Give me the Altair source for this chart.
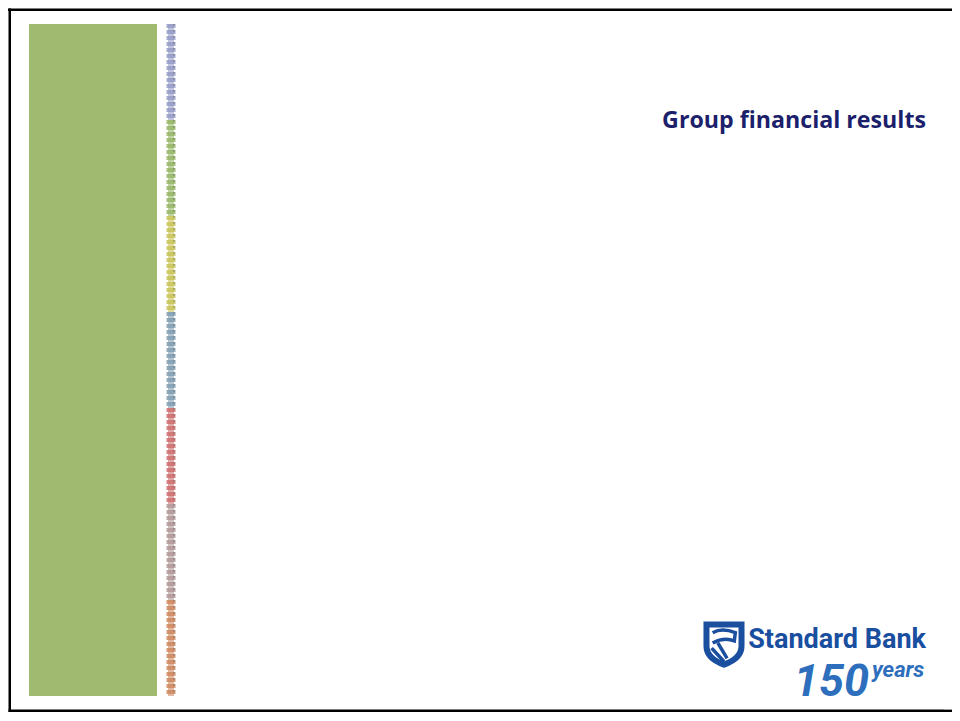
import altair as alt
import pandas as pd

# ---- content ----
title_text = "Group financial results"
brand_name = "Standard Bank"
anniv_num = "150"
anniv_word = "years"

# bead strip segments (top to bottom)
segment_names = ["lavender", "green", "yellow", "steel", "red", "mauve", "orange"]
segment_colors = ["#979cc8", "#98b768", "#c9c45a", "#819fb3", "#cf7070", "#b19998", "#cf8860"]

W, H = 944, 705

seg_df = pd.DataFrame({
    "name": segment_names,
    "color": segment_colors,
    "start": list(range(len(segment_names))),
    "end": [i + 1 for i in range(len(segment_names))],
})
one = pd.DataFrame({"k": [0]})

base = alt.Chart(one)

# outer frame (top, left, bottom) drawn as thin rects
frame_top = base.mark_rect(color="#000000").encode(
    x=alt.value(0), x2=alt.value(W), y=alt.value(0.5), y2=alt.value(3))
frame_left = base.mark_rect(color="#000000").encode(
    x=alt.value(0.5), x2=alt.value(3), y=alt.value(0.5), y2=alt.value(H - 1))
frame_bottom = base.mark_rect(color="#000000").encode(
    x=alt.value(0.5), x2=alt.value(W), y=alt.value(H - 3.5), y2=alt.value(H - 1))

# green panel
panel = base.mark_rect(color="#a0ba70").encode(
    x=alt.value(21), x2=alt.value(149), y=alt.value(16), y2=alt.value(688))

# beaded strip
yscale = alt.Scale(domain=[0, len(segment_names)], range=[16, 688])
beads_back = alt.Chart(seg_df).mark_rule(strokeWidth=6, opacity=0.6).encode(
    x=alt.value(163),
    y=alt.Y("start:Q", scale=yscale, axis=None), y2="end:Q",
    color=alt.Color("color:N", scale=None, legend=None))
beads = alt.Chart(seg_df).mark_rule(strokeWidth=9, strokeDash=[4, 2], opacity=0.85).encode(
    x=alt.value(163),
    y=alt.Y("start:Q", scale=yscale, axis=None), y2="end:Q",
    color=alt.Color("color:N", scale=None, legend=None))
beads_shade = alt.Chart(seg_df).mark_rule(strokeWidth=2, strokeDash=[2, 4], color="#6a6a6a",
                                          opacity=0.35).encode(
    x=alt.value(166),
    y=alt.Y("start:Q", scale=yscale, axis=None), y2="end:Q")

# title
title = base.mark_text(
    text=title_text, font="Open Sans", fontWeight="bold", fontSize=23.2,
    color="#1c1f6b", align="right", baseline="alphabetic",
).encode(x=alt.value(918), y=alt.value(120))

# logo: shield
shield_outline = "M -0.85 -0.95 L 0.85 -0.95 L 0.85 0.1 Q 0.85 0.7 0 1 Q -0.85 0.7 -0.85 0.1 Z"
shield_inner = ("M -0.55 -0.55 Q -0.1 -0.8 0.55 -0.55 L 0.5 -0.15 Q 0 -0.35 -0.55 -0.05 "
                "M -0.6 0.2 L 0 0.85 M -0.3 -0.05 L 0.15 0.7")
shield = base.mark_point(shape=shield_outline, size=1700, filled=False,
                         stroke="#1a4f9f", strokeWidth=6, opacity=1).encode(
    x=alt.value(716), y=alt.value(636))
shield2 = base.mark_point(shape=shield_inner, size=1700, filled=False,
                          stroke="#1a4f9f", strokeWidth=3.5, opacity=1).encode(
    x=alt.value(716), y=alt.value(636))

brand = base.mark_text(
    text=brand_name, font="Roboto", fontWeight="bold", fontSize=27,
    color="#1a4f9f", align="right", baseline="alphabetic",
).encode(x=alt.value(918), y=alt.value(640))

num = base.mark_text(
    text=anniv_num, font="Roboto", fontWeight="bold", fontStyle="italic", fontSize=45,
    color="#2e6fbd", align="right", baseline="alphabetic",
).encode(x=alt.value(861), y=alt.value(688))

word = base.mark_text(
    text=anniv_word, font="Roboto", fontWeight="bold", fontStyle="italic", fontSize=22,
    color="#2e6fbd", align="left", baseline="alphabetic",
).encode(x=alt.value(864), y=alt.value(669))

# white cover over the right edge (keeps the open right side of the frame)
cover = base.mark_rect(color="#ffffff").encode(
    x=alt.value(W - 8), x2=alt.value(W), y=alt.value(3.2), y2=alt.value(H - 3.7))

chart = alt.layer(
    frame_top, frame_left, frame_bottom, panel, beads_back, beads, beads_shade,
    title, shield, shield2, brand, num, word, cover,
).properties(
    width=W, height=H, autosize=alt.AutoSizeParams(type="none"), padding=0,
    background="#ffffff",
).configure_view(strokeWidth=0, strokeOpacity=0)

chart.save("out.html", embed_options={"renderer": "svg", "actions": False})
